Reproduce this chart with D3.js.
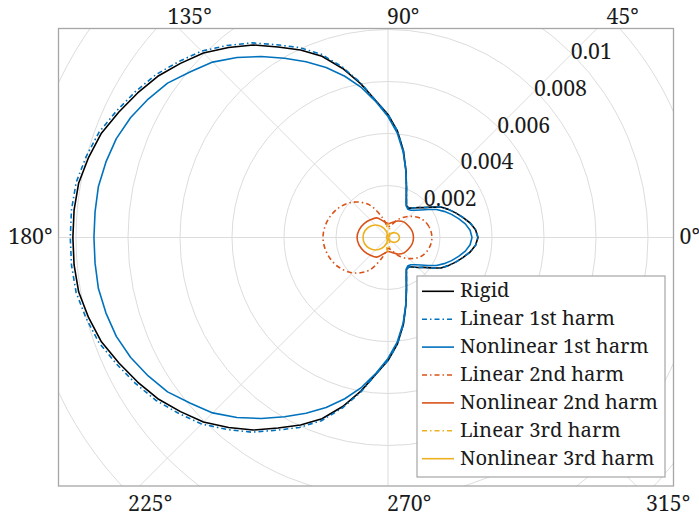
<!DOCTYPE html>
<html>
<head>
<meta charset="utf-8">
<script src="https://cdn.jsdelivr.net/npm/d3@7"></script>
<style>
  html, body { margin: 0; padding: 0; background: #fff; }
</style>
</head>
<body>
<svg id="chart" width="699" height="519"></svg>
<script>
// ---- data -------------------------------------------------------------
// Sampling angles in degrees (counter-clockwise from 0°)
const angles5 = d3.range(0, 360, 5);
const angles15 = d3.range(0, 360, 15);

// Magnitudes, in units of 1e-3
const rigid = [3.46,3.38,3.21,2.98,2.77,2.56,2.35,2.04,1.79,1.63,1.48,1.38,1.42,1.68,2.08,2.67,3.40,4.12,4.73,5.27,6.00,6.73,7.42,7.96,8.46,9.04,9.54,10.04,10.42,10.81,11.12,11.42,11.73,11.92,12.08,12.12,12.12,
  12.12,12.08,11.92,11.73,11.42,11.12,10.81,10.42,10.04,9.54,9.04,8.46,7.96,7.42,6.73,6.00,5.27,4.73,4.12,3.40,2.67,2.08,1.68,1.42,1.38,1.48,1.63,1.79,2.04,2.35,2.56,2.77,2.98,3.21,3.38];
const linear1 = [3.46,3.38,3.21,2.98,2.77,2.56,2.35,2.04,1.79,1.63,1.48,1.38,1.42,1.68,2.08,2.67,3.40,4.12,4.73,5.27,6.04,6.79,7.50,8.06,8.56,9.14,9.64,10.14,10.52,10.91,11.22,11.52,11.83,12.02,12.18,12.22,12.22,
  12.22,12.18,12.02,11.83,11.52,11.22,10.91,10.52,10.14,9.64,9.14,8.56,8.06,7.50,6.79,6.04,5.27,4.73,4.12,3.40,2.67,2.08,1.68,1.42,1.38,1.48,1.63,1.79,2.04,2.35,2.56,2.77,2.98,3.21,3.38];
const nonlinear1 = [3.23,3.17,3.02,2.81,2.60,2.38,2.15,1.88,1.65,1.48,1.37,1.33,1.40,1.65,2.06,2.65,3.35,4.04,4.65,5.23,5.85,6.42,6.96,7.46,7.96,8.50,9.04,9.54,9.92,10.35,10.65,10.92,11.12,11.23,11.31,11.31,11.31,
  11.31,11.31,11.23,11.12,10.92,10.65,10.35,9.92,9.54,9.04,8.50,7.96,7.46,6.96,6.42,5.85,5.23,4.65,4.04,3.35,2.65,2.06,1.65,1.40,1.33,1.37,1.48,1.65,1.88,2.15,2.38,2.60,2.81,3.02,3.17];
const linear2 = [1.69,1.63,1.46,1.15,0.81,0.50,0.42,0.77,1.46,1.92,2.23,2.42,2.50,
  2.42,2.23,1.92,1.46,0.77,0.42,0.50,0.81,1.15,1.46,1.63];
const nonlinear2 = [0.98,0.96,0.90,0.85,0.73,0.60,0.54,0.65,0.87,0.96,1.06,1.15,1.19,
  1.15,1.06,0.96,0.87,0.65,0.54,0.60,0.73,0.85,0.90,0.96];
const linear3 = [0.058,0.058,0.058,0.060,0.062,0.063,0.067,0.071,0.077,0.081,0.090,0.100,0.115,0.138,0.169,0.223,0.331,0.481,0.519,0.462,0.231,0.135,0.100,0.081,0.069,0.065,0.062,0.060,0.058,0.058,0.058,0.058,0.058,0.058,0.058,0.058,0.058,
  0.058,0.058,0.058,0.058,0.058,0.058,0.058,0.058,0.060,0.062,0.065,0.069,0.081,0.100,0.135,0.231,0.462,0.519,0.481,0.331,0.223,0.169,0.138,0.115,0.100,0.090,0.081,0.077,0.071,0.067,0.063,0.062,0.060,0.058,0.058];
const nonlinear3 = [0.44,0.415,0.35,0.25,0.15,0.08,0.02,0.25,0.48,0.68,0.83,0.93,0.96,
  0.93,0.83,0.68,0.48,0.25,0.02,0.08,0.15,0.25,0.35,0.415];
const UNIT = 1e-3;

const seriesNames = ["Rigid","Linear 1st harm","Nonlinear 1st harm","Linear 2nd harm",
  "Nonlinear 2nd harm","Linear 3rd harm","Nonlinear 3rd harm"];

const ringValues = [0.002,0.004,0.006,0.008,0.010,0.012,0.014,0.016];
const radialTicks = [0.002,0.004,0.006,0.008,0.01];
const radialTickLabels = ["0.002","0.004","0.006","0.008","0.01"];
const thetaTicks = [0,45,90,135,180,225,270,315];
const thetaTickLabels = ["0°","45°","90°","135°","180°","225°","270°","315°"];

// ---- pick an installed serif face ---------------------------------------
function pickSerif() {
  const candidates = ["Liberation Serif", "Noto Serif", "Tinos", "Times New Roman",
    "Times", "FreeSerif", "Nimbus Roman", "DejaVu Serif"];
  const ctx = document.createElement("canvas").getContext("2d");
  const probe = "Nonlinear 1st harm 0.0123456789 WMgi";
  const width = f => { ctx.font = "40px " + f; return ctx.measureText(probe).width; };
  const bases = ["monospace", "sans-serif", "cursive"];
  const baseW = bases.map(width);
  for (const c of candidates) {
    const differs = bases.every((b, i) => width("'" + c + "', " + b) !== baseW[i]);
    if (differs) return "'" + c + "'";
  }
  return "serif";
}
const fontFamily = pickSerif();

// font size that gives `str` the wanted width in the chosen face
function fitSize(str, wantedWidth, base) {
  const ctx = document.createElement("canvas").getContext("2d");
  ctx.font = base + "px " + fontFamily;
  return base * wantedWidth / ctx.measureText(str).width;
}
const tickSize = Math.min(22.5, fitSize("0.002", 53, 22.5));
const legendSize = Math.min(22.5, fitSize("Nonlinear 2nd harm", 198, 22.5));

// ---- layout -----------------------------------------------------------
const box = { x0: 58.5, y0: 28.5, x1: 673.5, y1: 486 };
const cx = 388, cy = 237.5;
const r = d3.scaleLinear().domain([0, 0.01]).range([0, 260]);
const rad = d => d * Math.PI / 180;

const colors = { blue: "#0072BD", orange: "#D95319", yellow: "#EDB120", black: "#000000" };
const dashDot = "5,3,1.5,3";
const textColor = "#1a1a1a";

const series = [
  { name: seriesNames[0], angles: angles5,  values: rigid,      color: colors.black,  dash: null,    smooth: false },
  { name: seriesNames[1], angles: angles5,  values: linear1,    color: colors.blue,   dash: dashDot, smooth: false },
  { name: seriesNames[2], angles: angles5,  values: nonlinear1, color: colors.blue,   dash: null,    smooth: false },
  { name: seriesNames[3], angles: angles15, values: linear2,    color: colors.orange, dash: dashDot, smooth: true },
  { name: seriesNames[4], angles: angles15, values: nonlinear2, color: colors.orange, dash: null,    smooth: true },
  { name: seriesNames[5], angles: angles5,  values: linear3,    color: colors.yellow, dash: dashDot, smooth: true },
  { name: seriesNames[6], angles: angles15, values: nonlinear3, color: colors.yellow, dash: null,    smooth: true }
];

const svg = d3.select("#chart").attr("font-family", fontFamily);
svg.append("rect").attr("width", 699).attr("height", 519).attr("fill", "#fff");

svg.append("defs").append("clipPath").attr("id", "plotClip")
  .append("rect")
  .attr("x", box.x0).attr("y", box.y0)
  .attr("width", box.x1 - box.x0).attr("height", box.y1 - box.y0);

const plot = svg.append("g").attr("clip-path", "url(#plotClip)");

// ---- grid -------------------------------------------------------------
const grid = plot.append("g").attr("fill", "none").attr("stroke", "#dcdcdc").attr("stroke-width", 1);
grid.selectAll("circle").data(ringValues).join("circle")
  .attr("cx", cx).attr("cy", cy).attr("r", d => r(d));
grid.selectAll("line").data(thetaTicks).join("line")
  .attr("x1", cx).attr("y1", cy)
  .attr("x2", d => cx + 600 * Math.cos(rad(d)))
  .attr("y2", d => cy - 600 * Math.sin(rad(d)));

// ---- curves -----------------------------------------------------------
series.forEach(s => {
  const pts = s.values.map((v, i) => [s.angles[i], v * UNIT]);
  const line = d3.line()
    .x(p => cx + r(p[1]) * Math.cos(rad(p[0])))
    .y(p => cy - r(p[1]) * Math.sin(rad(p[0])))
    .curve(s.smooth ? d3.curveCatmullRomClosed.alpha(0.5) : d3.curveLinearClosed);
  plot.append("path")
    .attr("d", line(pts))
    .attr("fill", "none")
    .attr("stroke", s.color)
    .attr("stroke-width", 1.6)
    .attr("stroke-linejoin", "round")
    .attr("stroke-dasharray", s.dash);
});

// ---- frame ------------------------------------------------------------
svg.append("rect")
  .attr("x", box.x0).attr("y", box.y0)
  .attr("width", box.x1 - box.x0).attr("height", box.y1 - box.y0)
  .attr("fill", "none").attr("stroke", "#a6a6a6").attr("stroke-width", 1.3);

// ---- radial tick labels (along the 45° spoke) --------------------------
svg.append("g").selectAll("text").data(radialTicks).join("text")
  .attr("x", d => cx + r(d) * Math.cos(rad(45)) - 1)
  .attr("y", d => cy - r(d) * Math.sin(rad(45)) + 5.5)
  .attr("font-size", tickSize)
  .attr("fill", textColor)
  .text((d, i) => radialTickLabels[i]);

// ---- angular tick labels (outside the frame) ---------------------------
const thetaG = svg.append("g");
thetaTicks.forEach((deg, i) => {
  const c = Math.cos(rad(deg)), s = Math.sin(rad(deg));
  let x, y, anchor = "start";
  if (Math.abs(s) < 1e-6) {
    y = cy + 6;
    if (c > 0) { x = box.x1 + 6; } else { x = box.x0 - 6; anchor = "end"; }
  } else {
    const edgeY = s > 0 ? box.y0 : box.y1;
    const hitX = cx + (cy - edgeY) * c / s;
    const side = Math.abs(c) < 1e-6 ? 0 : Math.sign(c);
    x = hitX - 1 + 10.5 * side;
    y = s > 0 ? box.y0 - 4.5 : box.y1 + 25;
  }
  thetaG.append("text")
    .attr("x", x).attr("y", y)
    .attr("text-anchor", anchor)
    .attr("font-size", tickSize)
    .attr("fill", textColor)
    .text(thetaTickLabels[i]);
});

// ---- legend -----------------------------------------------------------
const lg = svg.append("g");
lg.append("rect")
  .attr("x", 417).attr("y", 276).attr("width", 248).attr("height", 201)
  .attr("fill", "#fff").attr("stroke", "#a6a6a6").attr("stroke-width", 1.2);
series.forEach((s, i) => {
  const base = 297.3 + 27.9 * i;
  lg.append("line")
    .attr("x1", 422).attr("x2", 454)
    .attr("y1", base - 6).attr("y2", base - 6)
    .attr("stroke", s.color).attr("stroke-width", 1.6)
    .attr("stroke-dasharray", s.dash);
  lg.append("text")
    .attr("x", 460).attr("y", base)
    .attr("font-size", legendSize)
    .attr("fill", textColor)
    .text(s.name);
});
</script>
</body>
</html>
